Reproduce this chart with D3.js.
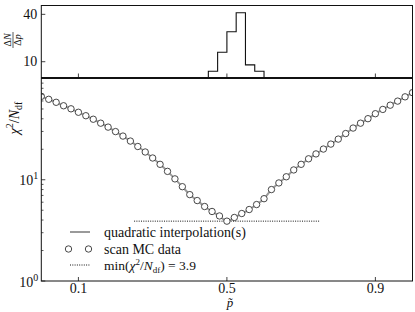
<!DOCTYPE html>
<html>
<head>
<meta charset="utf-8">
<script src="https://cdn.jsdelivr.net/npm/d3@7"></script>
<style>
  body { margin: 0; background: #fff; }
  svg { display: block; }
  text { font-family: "Liberation Serif", "DejaVu Serif", serif; fill: #111; }
</style>
</head>
<body>
<svg id="chart" width="415" height="312"></svg>
<script>
// ---- Data ----
const pScan = [0.00, 0.02, 0.04, 0.06, 0.08, 0.10, 0.12, 0.14, 0.16, 0.18,
               0.20, 0.22, 0.24, 0.26, 0.28, 0.30, 0.32, 0.34, 0.36, 0.38,
               0.40, 0.42, 0.44, 0.46, 0.48, 0.50, 0.52, 0.54, 0.56, 0.58,
               0.60, 0.62, 0.64, 0.66, 0.68, 0.70, 0.72, 0.74, 0.76, 0.78,
               0.80, 0.82, 0.84, 0.86, 0.88, 0.90, 0.92, 0.94, 0.96, 0.98, 1.00];
const chi2Scan = [66.6, 62.3, 58.2, 53.8, 50.2, 46.4, 42.9, 39.6, 36.2, 33.1,
                  29.9, 27.0, 24.1, 21.3, 18.8, 16.4, 14.2, 12.1, 10.2, 8.54,
                  7.13, 6.23, 5.44, 4.86, 4.39, 3.9, 4.24, 4.64, 5.08, 5.69,
                  6.5, 8.0, 9.3, 10.7, 12.5, 14.2, 16.1, 18.0, 20.1, 22.5,
                  25.2, 28.6, 32.4, 36.2, 40.1, 44.9, 49.5, 54.5, 59.8, 65.9, 72.5];
const histEdges = [0.45, 0.475, 0.5, 0.525, 0.55, 0.575, 0.6];
const histCounts = [4, 16, 29, 41, 8, 4];
const xTicks = [0.1, 0.5, 0.9];
const histTicks = [10, 40];
const chi2Min = 3.9;
const minSpan = [0.25, 0.75];
const logMajor = [1, 10, 100];
const logMinor = [2, 3, 4, 5, 6, 7, 8, 9, 20, 30, 40, 50, 60, 70, 80, 90];

// ---- Layout ----
const L = 41.3, R = 412.5;
const topY0 = 5.5, topY1 = 77.5;
const botY0 = 78.5, botY1 = 281;
const FS = 14;

const svg = d3.select('#chart');
const x = d3.scaleLinear().domain([0, 1]).range([L, R]);
const yH = d3.scaleLinear().domain([0, 45.6]).range([topY1, topY0]);
const yC = d3.scaleLog().domain([1, 100]).range([botY1, botY0]);

svg.append('defs').append('clipPath').attr('id', 'clipBot')
  .append('rect').attr('x', L).attr('y', botY0).attr('width', R - L).attr('height', botY1 - botY0);

// ---- Top panel: histogram ----
const stepPts = [[histEdges[0], 0]];
histCounts.forEach((c, i) => { stepPts.push([histEdges[i], c]); stepPts.push([histEdges[i + 1], c]); });
stepPts.push([histEdges[histEdges.length - 1], 0]);
svg.append('path')
  .attr('d', d3.line().x(d => x(d[0])).y(d => yH(d[1]))(stepPts))
  .attr('fill', 'none').attr('stroke', '#111').attr('stroke-width', 1.1);

// top ticks
const gTop = svg.append('g');
gTop.selectAll('line.yt').data(histTicks).join('line')
  .attr('x1', L).attr('x2', L + 4).attr('y1', d => yH(d)).attr('y2', d => yH(d))
  .attr('stroke', '#111').attr('stroke-width', 0.8);
gTop.selectAll('text.yt').data(histTicks).join('text')
  .attr('x', L - 4).attr('y', d => yH(d) + 4.5).attr('text-anchor', 'end')
  .style('font-size', FS + 'px').text(d => d);
gTop.selectAll('line.xt').data(xTicks).join('line')
  .attr('x1', d => x(d)).attr('x2', d => x(d)).attr('y1', topY1).attr('y2', topY1 - 4)
  .attr('stroke', '#111').attr('stroke-width', 0.8);
svg.append('rect').attr('x', L).attr('y', topY0).attr('width', R - L).attr('height', topY1 - topY0)
  .attr('fill', 'none').attr('stroke', '#111').attr('stroke-width', 1);

// top y label: fraction dN/dp rotated
const gFrac = svg.append('g').attr('transform', 'translate(13,40) rotate(-90)');
gFrac.append('text').attr('x', 0).attr('y', -2).attr('text-anchor', 'middle')
  .style('font-size', '10px').html('Δ<tspan font-style="italic">N</tspan>');
gFrac.append('line').attr('x1', -8).attr('x2', 8).attr('y1', 0).attr('y2', 0)
  .attr('stroke', '#111').attr('stroke-width', 0.7);
gFrac.append('text').attr('x', 0).attr('y', 8).attr('text-anchor', 'middle')
  .style('font-size', '10px').html('Δ<tspan font-style="italic">p</tspan>');

// ---- Bottom panel: chi2 scan ----
const scan = pScan.map((p, i) => ({ p, c: chi2Scan[i] }));
const gPlot = svg.append('g').attr('clip-path', 'url(#clipBot)');

gPlot.append('path')
  .attr('d', d3.line().curve(d3.curveCatmullRom).x(d => x(d.p)).y(d => yC(d.c))(scan))
  .attr('fill', 'none').attr('stroke', '#9a9a9a').attr('stroke-width', 2);

gPlot.append('line')
  .attr('x1', x(minSpan[0])).attr('x2', x(minSpan[1]))
  .attr('y1', yC(chi2Min)).attr('y2', yC(chi2Min))
  .attr('stroke', '#111').attr('stroke-width', 1).attr('stroke-dasharray', '1,1.3');

gPlot.selectAll('circle').data(scan).join('circle')
  .attr('cx', d => x(d.p)).attr('cy', d => yC(d.c)).attr('r', 3.2)
  .attr('fill', '#fff').attr('stroke', '#333').attr('stroke-width', 0.9);

// bottom axes ticks
const gB = svg.append('g');
gB.selectAll('line.maj').data(logMajor).join('line')
  .attr('x1', L).attr('x2', L + 4).attr('y1', d => yC(d)).attr('y2', d => yC(d))
  .attr('stroke', '#111').attr('stroke-width', 0.8);
gB.selectAll('line.min').data(logMinor).join('line')
  .attr('x1', L).attr('x2', L + 2.2).attr('y1', d => yC(d)).attr('y2', d => yC(d))
  .attr('stroke', '#111').attr('stroke-width', 0.7);
gB.selectAll('text.yl').data(logMajor.slice(0, 2)).join('text')
  .attr('x', L - 3).attr('y', d => yC(d) + 5.5).attr('text-anchor', 'end')
  .style('font-size', FS + 'px')
  .html(d => `10<tspan dy="-6" font-size="10px">${Math.round(Math.log10(d))}</tspan>`);
gB.selectAll('line.xt').data(xTicks).join('line')
  .attr('x1', d => x(d)).attr('x2', d => x(d)).attr('y1', botY1).attr('y2', botY1 - 4)
  .attr('stroke', '#111').attr('stroke-width', 0.8);
gB.selectAll('text.xl').data(xTicks).join('text')
  .attr('x', d => x(d)).attr('y', botY1 + 11.5).attr('text-anchor', 'middle')
  .style('font-size', FS + 'px').text(d => d);
svg.append('rect').attr('x', L).attr('y', botY0).attr('width', R - L).attr('height', botY1 - botY0)
  .attr('fill', 'none').attr('stroke', '#111').attr('stroke-width', 1);

// x label p~
svg.append('text').attr('x', x(0.5) + 3).attr('y', 307).attr('text-anchor', 'middle')
  .style('font-size', '13px').style('font-style', 'italic').text('p\u0303');

// y label chi2/Ndf
svg.append('text').attr('transform', 'translate(19,118) rotate(-90)').attr('text-anchor', 'middle')
  .style('font-size', FS + 'px')
  .html('<tspan font-style="italic">χ</tspan><tspan dy="-6" font-size="10px">2</tspan><tspan dy="6">/</tspan><tspan font-style="italic">N</tspan><tspan dy="3" font-size="10px">df</tspan>');

// ---- Legend ----
const lg = svg.append('g');
const lx0 = 70, lx1 = 90, tx = 104;
const rows = [232, 249, 265];
lg.append('line').attr('x1', lx0).attr('x2', lx1).attr('y1', rows[0]).attr('y2', rows[0])
  .attr('stroke', '#9a9a9a').attr('stroke-width', 2);
lg.selectAll('circle').data([lx0 - 1.5, lx1 - 1.5]).join('circle')
  .attr('cx', d => d).attr('cy', rows[1]).attr('r', 3.2)
  .attr('fill', '#fff').attr('stroke', '#333').attr('stroke-width', 0.9);
lg.append('line').attr('x1', lx0).attr('x2', lx1).attr('y1', rows[2]).attr('y2', rows[2])
  .attr('stroke', '#111').attr('stroke-width', 1).attr('stroke-dasharray', '1,1.3');
lg.append('text').attr('x', tx).attr('y', rows[0] + 4.5).style('font-size', FS + 'px')
  .text('quadratic interpolation(s)');
lg.append('text').attr('x', tx).attr('y', rows[1] + 4.5).style('font-size', FS + 'px')
  .text('scan MC data');
lg.append('text').attr('x', tx).attr('y', rows[2] + 4.5).style('font-size', '13.5px')
  .html(`min(<tspan font-style="italic">χ</tspan><tspan dy="-4.5" font-size="9px">2</tspan><tspan dy="4.5">/</tspan><tspan font-style="italic">N</tspan><tspan dy="3" font-size="9px">df</tspan><tspan dy="-3">) = ${chi2Min}</tspan>`);
</script>
</body>
</html>
